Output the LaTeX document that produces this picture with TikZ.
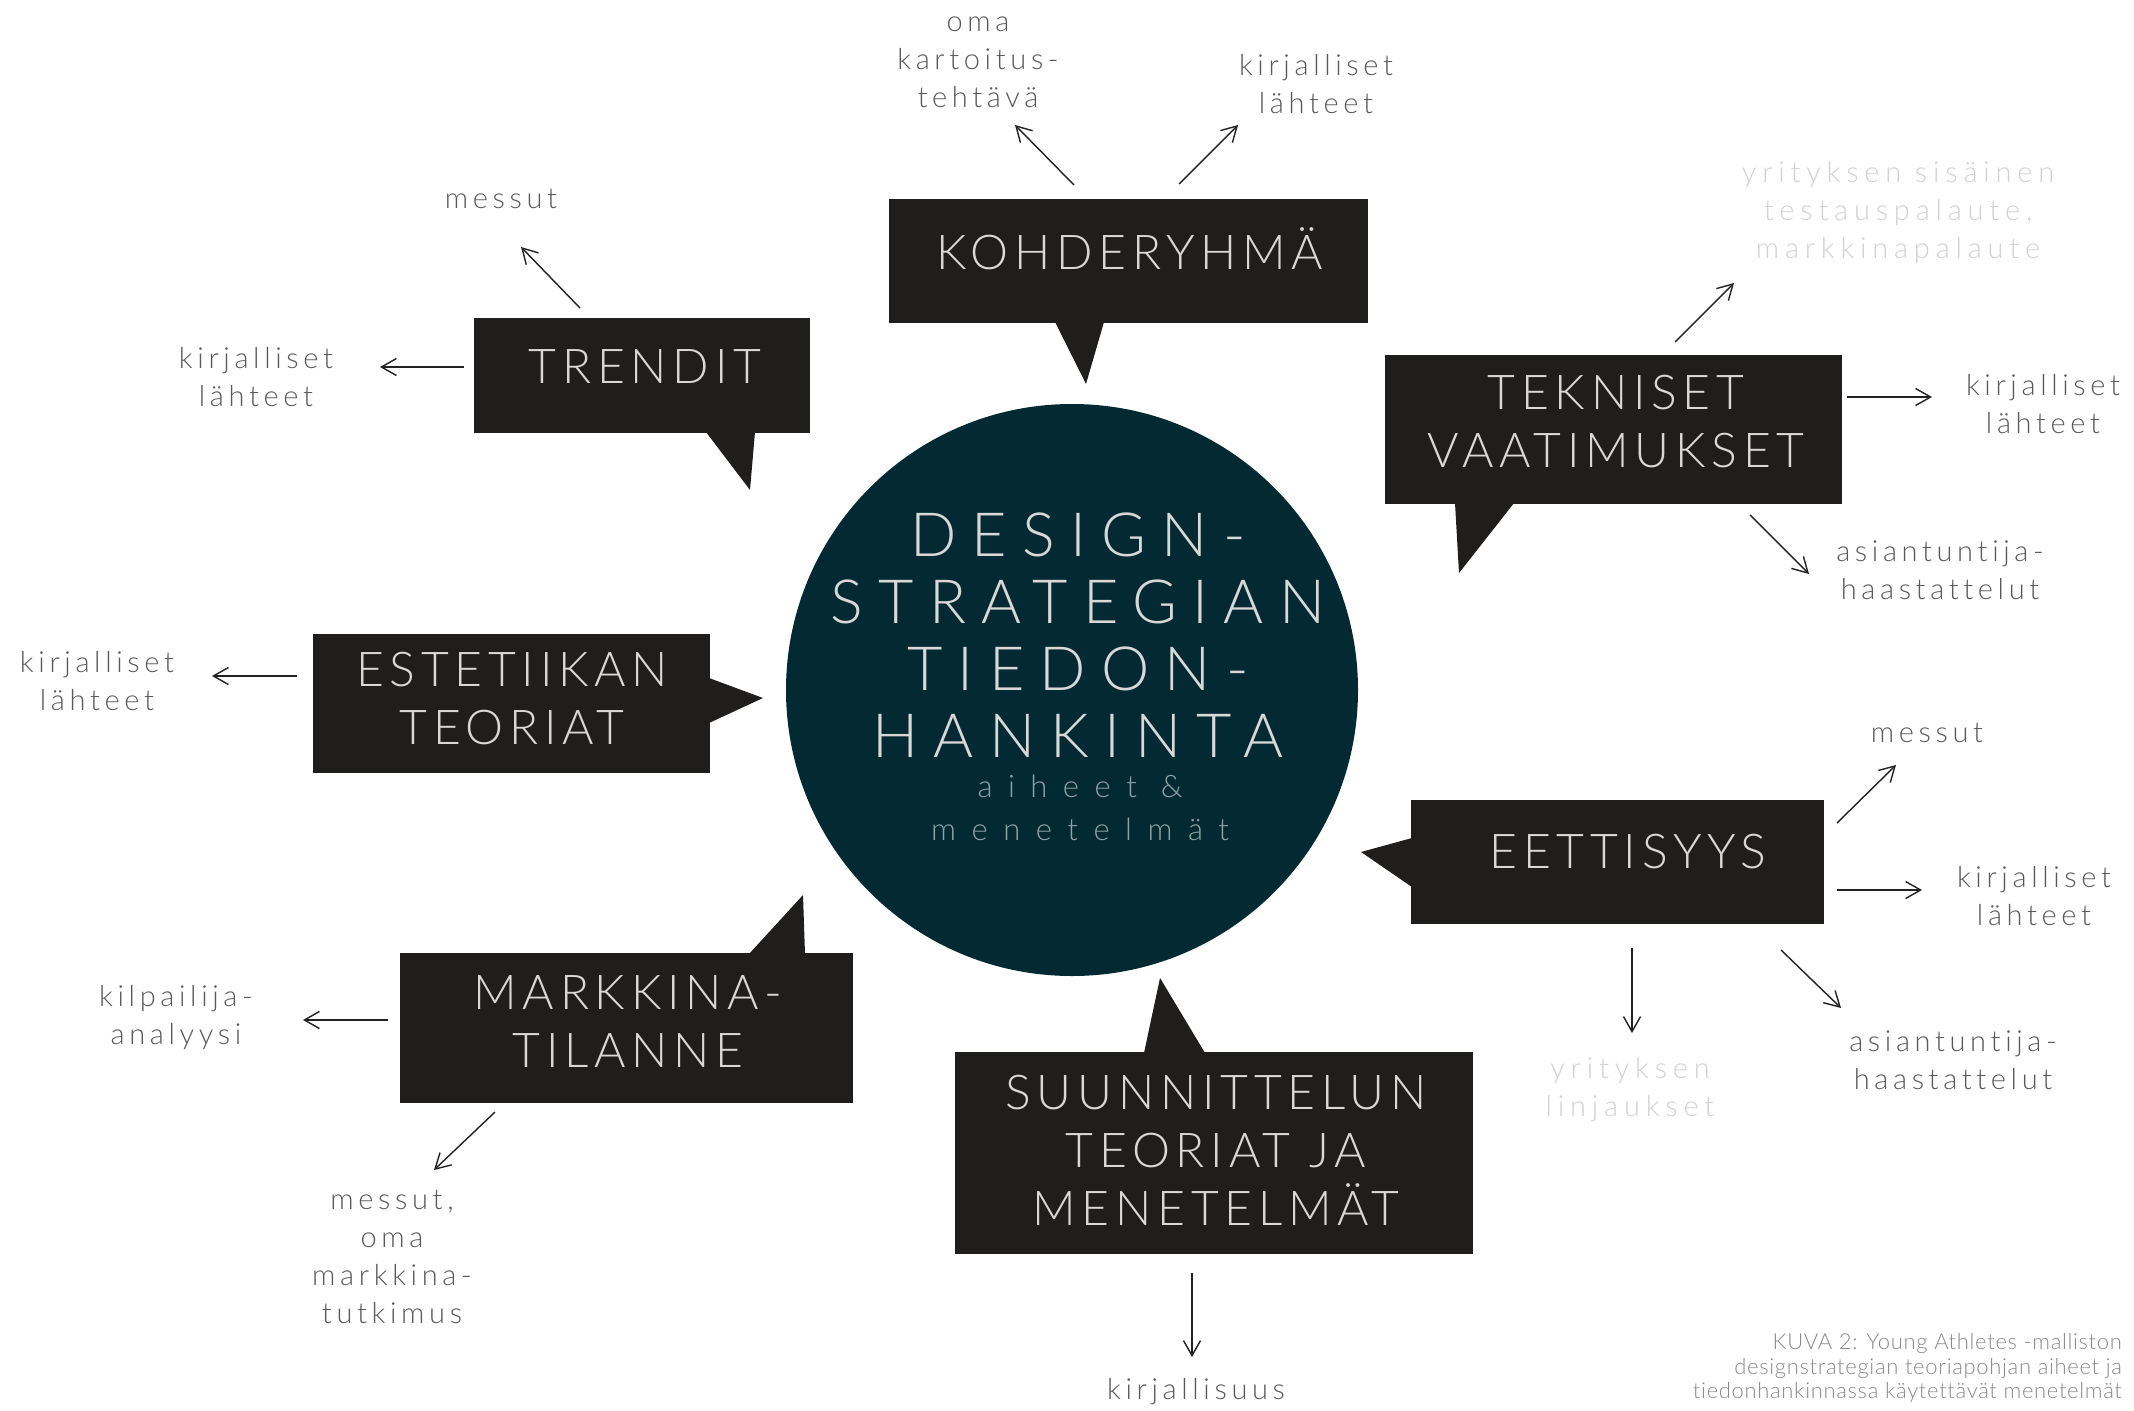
\documentclass[tikz,border=0pt]{standalone}
\usepackage{fontspec}
\usetikzlibrary{arrows.meta}
\setmainfont{Lato Light}
\newfontfamily\boxfont{Lato Light}[LetterSpace=12, Ligatures=NoCommon]
\newfontfamily\hubfont{Lato Light}[LetterSpace=25, Ligatures=NoCommon]
\newfontfamily\hubsubfont{Lato Light}[LetterSpace=50, Ligatures=NoCommon]
\newfontfamily\notefont{Lato Light}[LetterSpace=16, Ligatures=NoCommon]
\newfontfamily\faintfont{Lato Light}[LetterSpace=20, Ligatures=NoCommon]
\newfontfamily\captionfont{Lato Light}[LetterSpace=3, Ligatures=NoCommon]
\definecolor{bubblefill}{HTML}{1F1E1C}
\definecolor{hubfill}{HTML}{032A33}
\definecolor{bubbletext}{HTML}{D8D8D8}
\definecolor{hubsubtext}{HTML}{8FA3A6}
\definecolor{notetext}{HTML}{5A5A5A}
\definecolor{faintnote}{HTML}{D2D2D2}
\definecolor{arrowcol}{HTML}{222222}
\definecolor{captiontext}{HTML}{8A8A8A}
\tikzset{
  bubble/.style={rectangle, fill=bubblefill, inner sep=0pt, outer sep=0pt},
  bubbletxt/.style={text=bubbletext, align=center, inner sep=0pt,
    font=\boxfont\fontsize{48}{58}\selectfont},
  note/.style={text=notetext, align=center, inner sep=0pt,
    font=\notefont\fontsize{29}{38}\selectfont},
  faint/.style={note, text=faintnote, font=\faintfont\fontsize{29}{38}\selectfont},
  link/.style={draw=arrowcol, line width=1.4pt,
    -{Straight Barb[length=15pt,width=17pt,line width=1.4pt]}},
}
\begin{document}
\begin{tikzpicture}[x=1pt,y=-1pt]
\useasboundingbox (0,0) rectangle (2134,1411);
\fill[white] (0,0) rectangle (2134,1411);

% central disc
\node[circle, fill=hubfill, minimum size=572pt, inner sep=0pt] (hub) at (1072,690) {};
\node[text=bubbletext, align=center, inner sep=0pt,
      font=\hubfont\fontsize{61}{67}\selectfont] (hubtitle) at (1078,635)
  {DESIGN-\\STRATEGIAN\\TIEDON-\\HANKINTA};
\node[text=hubsubtext, align=center, inner sep=0pt,
      font=\hubsubfont\fontsize{31}{43}\selectfont] (hubsub) at (1080,808)
  {aiheet \&\\menetelmät};

% speech bubbles: boxes and tails
\node[bubble, minimum width=479pt, minimum height=124pt] (kohB) at (1128.5,261) {};
\fill[bubblefill] (1055,322) -- (1086,384) -- (1104,322) -- cycle;
\node[bubbletxt] (koh) at (1130,249) {KOHDERYHMÄ};

\node[bubble, minimum width=336pt, minimum height=115pt] (trenB) at (642,375.5) {};
\fill[bubblefill] (706,432) -- (750,490) -- (755,432) -- cycle;
\node[bubbletxt] (tren) at (645,367) {TRENDIT};

\node[bubble, minimum width=397pt, minimum height=139pt] (estB) at (511.5,703.5) {};
\fill[bubblefill] (709,678) -- (763,698) -- (709,723) -- cycle;
\node[bubbletxt] (est) at (512,698) {ESTETIIKAN\\TEORIAT};

\node[bubble, minimum width=453pt, minimum height=150pt] (markB) at (626.5,1028) {};
\fill[bubblefill] (749,954) -- (803,895) -- (805,954) -- cycle;
\node[bubbletxt] (mark) at (628,1022) {MARKKINA-\\TILANNE};

\node[bubble, minimum width=518pt, minimum height=202pt] (suunB) at (1214,1153) {};
\fill[bubblefill] (1144,1053) -- (1160,978) -- (1205,1053) -- cycle;
\node[bubbletxt] (suun) at (1216,1150) {SUUNNITTELUN\\TEORIAT JA\\MENETELMÄT};

\node[bubble, minimum width=413pt, minimum height=124pt] (eetB) at (1617.5,862) {};
\fill[bubblefill] (1412,838) -- (1361,852) -- (1412,887) -- cycle;
\node[bubbletxt] (eet) at (1628,852) {EETTISYYS};

\node[bubble, minimum width=457pt, minimum height=149pt] (tekB) at (1613.5,429.5) {};
\fill[bubblefill] (1455,503) -- (1459,573) -- (1514,503) -- cycle;
\node[bubbletxt] (tek) at (1616,422) {TEKNISET\\VAATIMUKSET};

% source notes
\node[note] (kohA) at (978,62) {oma\\kartoitus-\\tehtävä};
\node[note] (kohC) at (1316,84) {kirjalliset\\lähteet};
\node[note] (trenA) at (501,199) {messut};
\node[note] (trenC) at (256,377) {kirjalliset\\lähteet};
\node[note] (estA) at (97,681) {kirjalliset\\lähteet};
\node[note] (markA) at (176,1017) {kilpailija-\\analyysi};
\node[note] (markC) at (392,1257) {messut,\\oma\\markkina-\\tutkimus};
\node[note] (suunA) at (1196,1392) {kirjallisuus};
\node[faint] (eetD) at (1630,1090) {yrityksen\\linjaukset};
\node[note] (eetC) at (1953,1060) {asiantuntija-\\haastattelut};
\node[note] (eetB2) at (2034,896) {kirjalliset\\lähteet};
\node[note] (eetA) at (1927,733) {messut};
\node[note] (tekC) at (1940,570) {asiantuntija-\\haastattelut};
\node[note] (tekB2) at (2043,404) {kirjalliset\\lähteet};
\node[faint] (tekA) at (1898,212) {yrityksen sisäinen\\testauspalaute,\\markkinapalaute};

% arrow end points
\coordinate (k1s) at (1074,185); \coordinate (k1e) at (1015,125);
\coordinate (k2s) at (1179,184); \coordinate (k2e) at (1238,125);
\coordinate (t1s) at (580,308);  \coordinate (t1e) at (521,247);
\coordinate (t2s) at (464,367);  \coordinate (t2e) at (380,367);
\coordinate (e1s) at (297,676);  \coordinate (e1e) at (212,676);
\coordinate (m1s) at (388,1020); \coordinate (m1e) at (303,1020);
\coordinate (m2s) at (495,1112); \coordinate (m2e) at (434,1170);
\coordinate (s1s) at (1192,1273); \coordinate (s1e) at (1192,1357);
\coordinate (q1s) at (1632,948); \coordinate (q1e) at (1632,1033);
\coordinate (q2s) at (1781,950); \coordinate (q2e) at (1841,1008);
\coordinate (q3s) at (1837,890); \coordinate (q3e) at (1922,890);
\coordinate (q4s) at (1837,823); \coordinate (q4e) at (1896,765);
\coordinate (v1s) at (1675,342); \coordinate (v1e) at (1734,283);
\coordinate (v2s) at (1847,397); \coordinate (v2e) at (1932,397);
\coordinate (v3s) at (1750,515); \coordinate (v3e) at (1809,574);

\foreach \a in {k1,k2,t1,t2,e1,m1,m2,s1,q1,q2,q3,q4,v1,v2,v3}
  \draw[link] (\a s) -- (\a e);

% caption
\node[text=captiontext, align=right, anchor=east, inner sep=0pt,
      font=\captionfont\fontsize{22}{24.5}\selectfont] (caption) at (2122,1368)
  {KUVA 2: Young Athletes -malliston\\designstrategian teoriapohjan aiheet ja\\tiedonhankinnassa käytettävät menetelmät};
\end{tikzpicture}
\end{document}
